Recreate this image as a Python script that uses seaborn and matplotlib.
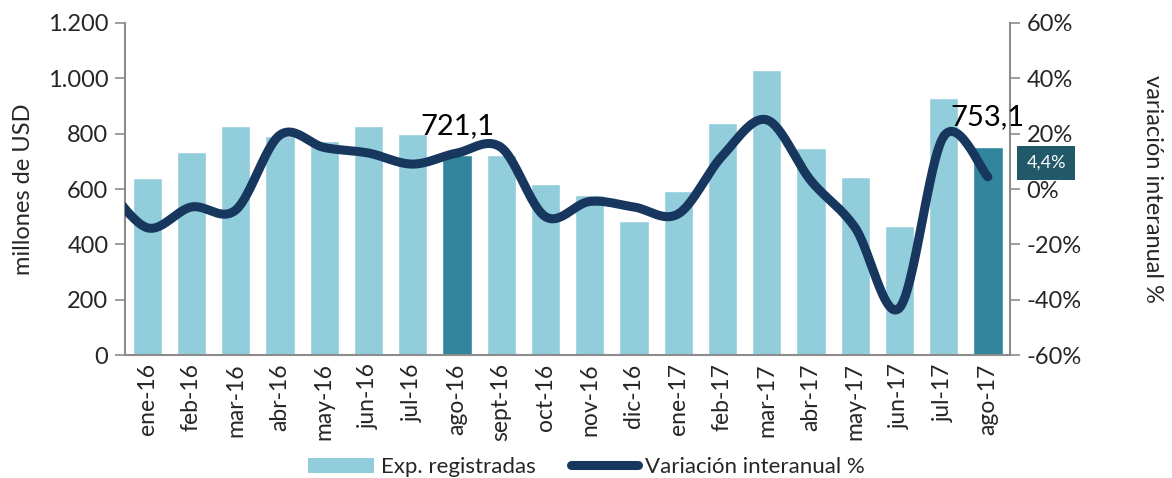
import numpy as np
import pandas as pd
import matplotlib
matplotlib.use("Agg")
import matplotlib.pyplot as plt
import seaborn as sns
from matplotlib.patches import Patch
from matplotlib.lines import Line2D

# ---- data ----
months = ["ene-16", "feb-16", "mar-16", "abr-16", "may-16", "jun-16", "jul-16",
          "ago-16", "sept-16", "oct-16", "nov-16", "dic-16", "ene-17", "feb-17",
          "mar-17", "abr-17", "may-17", "jun-17", "jul-17", "ago-17"]
exports = [641, 735, 828, 790, 773, 828, 799, 721.1, 723, 618, 578, 484, 593,
           838, 1030, 748, 643, 466, 929, 753.1]
variation = [-14, -6.5, -7.6, 19.5, 15, 13, 9, 13, 15, -10, -4.5, -6.5, -9,
             12, 25, 3, -14, -43, 19, 4.4]
prev_variation = 3  # dic-15, partly visible at left edge
highlight = ["ago-16", "ago-17"]
left_ticks = [0, 200, 400, 600, 800, 1000, 1200]
left_labels = ["0", "200", "400", "600", "800", "1.000", "1.200"]
right_ticks = [-60, -40, -20, 0, 20, 40, 60]
right_labels = ["-60%", "-40%", "-20%", "0%", "20%", "40%", "60%"]
bar_labels = {"ago-16": "721,1", "ago-17": "753,1"}
last_label = "4,4%"

# ---- style ----
sns.set_style("white")
plt.rcParams["font.family"] = ["Lato", "DejaVu Sans"]

LIGHT = "#92CDDC"
DARK = "#31859C"
LINE = "#17375E"
SPINE = "#8C8C8C"

fig = plt.figure(figsize=(11.72, 4.78), dpi=100)
ax = fig.add_axes([0.1067, 0.2573, 0.7551, 0.6946])

df = pd.DataFrame({"month": months, "exports": exports})
palette = {m: (DARK if m in highlight else LIGHT) for m in months}
sns.barplot(data=df, x="month", y="exports", hue="month", palette=palette,
            legend=False, width=0.66, ax=ax, saturation=1)

ax.set_xlim(-0.5, len(months) - 0.5)
ax.set_ylim(0, 1200)
ax.set_yticks(left_ticks)
ax.set_yticklabels(left_labels, fontsize=17)
ax.set_ylabel("millones de USD", fontsize=17, labelpad=10)
ax.set_xlabel("")
ax.set_xticks(range(len(months)))
ax.set_xticklabels(months, rotation=90, fontsize=16.5)
ax.tick_params(axis="x", which="major", length=0, pad=6)
ax.set_xticks(np.arange(-0.5, len(months) + 0.5, 1), minor=True)
ax.tick_params(axis="x", which="minor", length=5, color=SPINE, width=1.2)
ax.tick_params(axis="y", length=7, color=SPINE, width=1.2, left=True, pad=5)
for s in ["top", "right"]:
    ax.spines[s].set_visible(False)
for s in ["left", "bottom"]:
    ax.spines[s].set_color(SPINE)
    ax.spines[s].set_linewidth(1.5)

# ---- smoothed line on secondary axis ----
ax2 = ax.twinx()
xs = np.arange(-1, len(months))
ys = np.array([prev_variation] + variation, dtype=float)
px = np.concatenate([[xs[0]], xs, [xs[-1]]])
py = np.concatenate([[ys[0]], ys, [ys[-1]]])
cx, cy = [], []
t = np.linspace(0, 1, 30)
for i in range(1, len(px) - 2):
    for out, a in ((cy, py[i - 1:i + 3]), (cx, px[i - 1:i + 3])):
        q0, q1, q2, q3 = a
        out.extend(0.5 * ((2 * q1) + (-q0 + q2) * t + (2 * q0 - 5 * q1 + 4 * q2 - q3) * t ** 2
                          + (-q0 + 3 * q1 - 3 * q2 + q3) * t ** 3))
ax2.plot(cx, cy, color=LINE, lw=6.5, solid_capstyle="round", solid_joinstyle="round")
ax2.set_ylim(-60, 60)
ax2.set_xlim(-0.5, len(months) - 0.5)
ax2.set_yticks(right_ticks)
ax2.set_yticklabels(right_labels, fontsize=17)
ax2.tick_params(axis="y", length=7, color=SPINE, width=1.2, right=True, pad=5)
ax2.set_ylabel("variación interanual %", fontsize=17, rotation=270, labelpad=58)
for s in ["top", "left", "bottom"]:
    ax2.spines[s].set_visible(False)
ax2.spines["right"].set_color(SPINE)
ax2.spines["right"].set_linewidth(1.5)

# ---- labels ----
for m, txt in bar_labels.items():
    i = months.index(m)
    ax2.annotate(txt, xy=(i, exports[i]), xycoords=ax.transData,
                 xytext=(0, 12), textcoords="offset points",
                 ha="center", va="bottom", fontsize=21, color="black")

ax2.annotate(last_label, xy=(1.0407, variation[-1]),
             xycoords=(ax.transAxes, ax2.transData),
             xytext=(0, 10), textcoords="offset points", ha="center", va="center",
             fontsize=13, color="white", annotation_clip=False,
             bbox=dict(boxstyle="square,pad=0.5", fc="#215968", ec="none"))

# ---- legend ----
handles = [Patch(facecolor=LIGHT, edgecolor="none", label="Exp. registradas"),
           Line2D([0], [0], color=LINE, lw=6.5, solid_capstyle="round",
                  label="Variación interanual %")]
fig.legend(handles=handles, loc="lower center", bbox_to_anchor=(0.5, -0.04),
           ncol=2, frameon=False, fontsize=16, handlelength=3.0,
           handletextpad=0.3, columnspacing=1.6)

fig.savefig("out.png", dpi=100)
